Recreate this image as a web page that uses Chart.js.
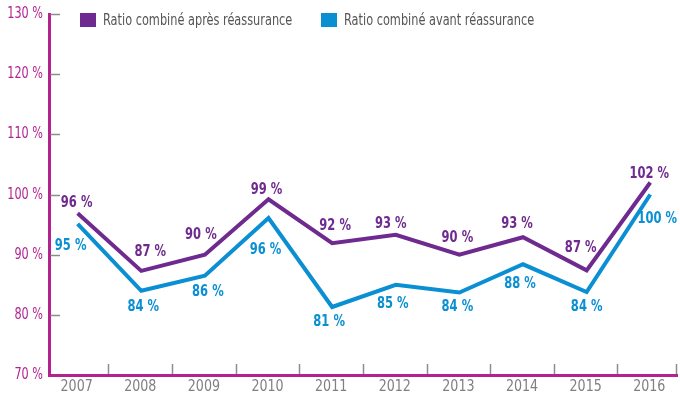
<!DOCTYPE html>
<html>
<head>
<meta charset="utf-8">
<script src="https://cdn.jsdelivr.net/npm/chart.js@4.4.1/dist/chart.umd.min.js"></script>
<style>
    html, body { margin: 0; padding: 0; background: #fff; }
    #wrap { width: 680px; height: 397px; }
</style>
</head>
<body>
<div id="wrap"><canvas id="ratio-chart" width="680" height="397"></canvas></div>
<script>
const years = ['2007', '2008', '2009', '2010', '2011', '2012', '2013', '2014', '2015', '2016'];
const apres = [96.9, 87.3, 90.0, 99.2, 91.9, 93.3, 90.0, 92.9, 87.4, 102.0];
const avant = [95.1, 84.0, 86.5, 96.1, 81.3, 85.0, 83.7, 88.4, 83.8, 100.0];
const apresLabels = [96, 87, 90, 99, 92, 93, 90, 93, 87, 102];
const avantLabels = [95, 84, 86, 96, 81, 85, 84, 88, 84, 100];
const seriesNames = ['Ratio combiné après réassurance', 'Ratio combiné avant réassurance'];

// label placement relative to the point (px)
const apresOffsets = [[-1,-10],[9,-19],[-4,-20],[-2,-9],[3,-17],[-5,-11],[-2,-17],[-6,-13],[-6,-22],[-1,-9]];
const avantOffsets = [[-7,22],[2,16],[3,16],[-3,32],[-3,15],[-3,19],[-2,14],[-3,20],[0,15],[7,24]];

const PURPLE = '#6e2a8e';
const BLUE = '#0b8fd3';
const MAGENTA = '#b3228e';
const FONT = '"Liberation Sans Narrow", "DejaVu Sans Condensed", "Roboto Condensed", sans-serif';

// condensed text: squeeze horizontally around the anchor
function narrowText(ctx, text, x, y, squeeze){
    ctx.save();
    ctx.translate(x, y);
    ctx.scale(squeeze, 1);
    ctx.fillText(text, 0, 0);
    ctx.restore();
}

const extras = {
    id: 'extras',
    afterDraw(chart){
        const ctx = chart.ctx;
        const xs = chart.scales.x;
        const ys = chart.scales.y;
        const area = chart.chartArea;
        ctx.save();

        // small grey ticks inside the plot
        ctx.strokeStyle = '#8c8c8c';
        ctx.lineWidth = 1.5;
        ys.ticks.forEach(t => {
            if(t.value === ys.min) return;
            const y = Math.round(ys.getPixelForValue(t.value)) + 0.5;
            ctx.beginPath();
            ctx.moveTo(area.left + 1.5, y);
            ctx.lineTo(area.left + 11, y);
            ctx.stroke();
        });
        for(let i = 0; i < years.length; i++){
            let x = i < years.length - 1 ? xs.getPixelForValue(i + 0.5) : area.right;
            x = Math.round(x) - 0.5;
            ctx.beginPath();
            ctx.moveTo(x, area.bottom - 1);
            ctx.lineTo(x, area.bottom - 11);
            ctx.stroke();
        }

        // tick labels
        ctx.font = '16px ' + FONT;
        ctx.textBaseline = 'middle';
        ctx.textAlign = 'right';
        ctx.fillStyle = MAGENTA;
        ys.ticks.forEach(t => {
            narrowText(ctx, t.value + ' %', 43, ys.getPixelForValue(t.value), 0.78);
        });
        ctx.textAlign = 'center';
        ctx.fillStyle = '#808080';
        years.forEach((y, i) => {
            narrowText(ctx, y, xs.getPixelForValue(i) - 1, area.bottom + 12, 0.88);
        });

        // value labels
        ctx.font = 'bold 16px ' + FONT;
        const metaA = chart.getDatasetMeta(0);
        const metaB = chart.getDatasetMeta(1);
        ctx.fillStyle = PURPLE;
        metaA.data.forEach((p, i) => {
            narrowText(ctx, apresLabels[i] + ' %', p.x + apresOffsets[i][0], p.y + apresOffsets[i][1], 0.8);
        });
        ctx.fillStyle = BLUE;
        metaB.data.forEach((p, i) => {
            narrowText(ctx, avantLabels[i] + ' %', p.x + avantOffsets[i][0], p.y + avantOffsets[i][1], 0.8);
        });

        // legend
        ctx.font = '15px ' + FONT;
        ctx.textAlign = 'left';
        const legendX = [80, 321];
        const colors = [PURPLE, BLUE];
        seriesNames.forEach((name, i) => {
            ctx.fillStyle = colors[i];
            ctx.fillRect(legendX[i], 13, 16, 14);
            ctx.fillStyle = '#555555';
            narrowText(ctx, name, legendX[i] + 23, 21, 0.84);
        });
        ctx.restore();
    }
};

const toPoints = (arr) => arr.map((v, i) => ({ x: i, y: v }));

new Chart(document.getElementById('ratio-chart'), {
    type: 'line',
    data: {
        datasets: [{
            label: seriesNames[0],
            data: toPoints(apres),
            borderColor: PURPLE,
            borderWidth: 4,
            borderJoinStyle: 'miter',
            pointRadius: 0,
            fill: false,
            tension: 0
        },
        {
            label: seriesNames[1],
            data: toPoints(avant),
            borderColor: BLUE,
            borderWidth: 4,
            borderJoinStyle: 'miter',
            pointRadius: 0,
            fill: false,
            tension: 0
        }]
    },
    options: {
        responsive: false,
        animation: false,
        devicePixelRatio: 1,
        layout: {
            padding: { top: 14, right: 3, left: 0, bottom: 0 }
        },
        plugins: {
            legend: { display: false },
            tooltip: { enabled: false }
        },
        scales: {
            x: {
                type: 'linear',
                min: -0.45,
                max: 9.42,
                grid: { display: true, drawOnChartArea: false, drawTicks: false },
                border: { color: MAGENTA, width: 3 },
                ticks: { display: false, stepSize: 1 },
                afterFit: (scale) => { scale.height = 22; }
            },
            y: {
                min: 70,
                max: 130,
                grid: { display: true, drawOnChartArea: false, drawTicks: false },
                border: { color: MAGENTA, width: 3 },
                ticks: { display: false, stepSize: 10 },
                afterFit: (scale) => { scale.width = 49; }
            }
        }
    },
    plugins: [extras]
});
</script>
</body>
</html>
